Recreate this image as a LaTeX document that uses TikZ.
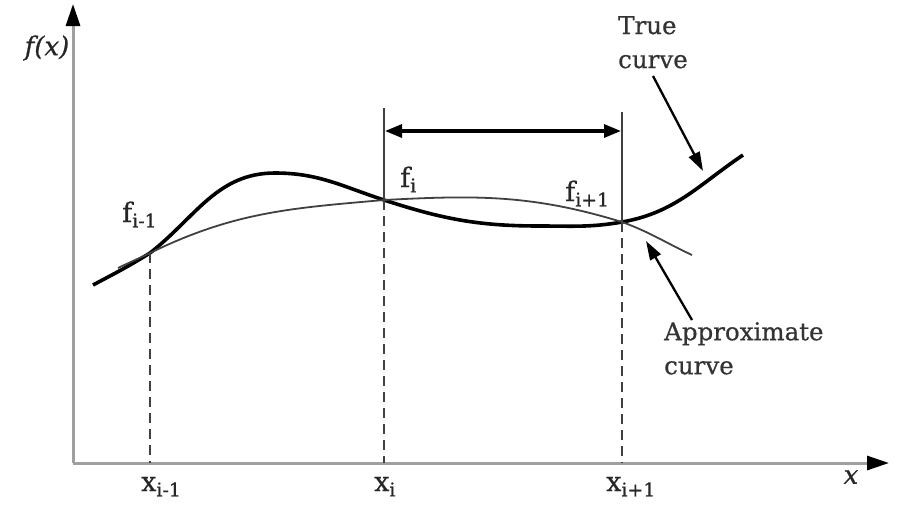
\documentclass[tikz,border=0pt]{standalone}
\usepackage{fontspec}
\setmainfont{DejaVu Serif}[FakeBold=0.6]
\usepackage{tikz}
\usetikzlibrary{arrows.meta}

\tikzset{
  axis/.style={line width=3pt, draw=gray!75, -{Triangle[length=22pt,width=14pt,color=black]}},
  truecurve/.style={line width=3.6pt, black},
  approxcurve/.style={line width=1.8pt, black!75},
  guide/.style={line width=2.3pt, draw=black!75},
  dashguide/.style={guide, dash pattern=on 10pt off 6pt},
  pointer/.style={line width=2.3pt, -{Triangle[length=19pt,width=12pt]}},
  span/.style={line width=3.2pt, {Triangle[length=17pt,width=13pt]}-{Triangle[length=17pt,width=13pt]}},
  lbl/.style={font=\fontsize{27}{30}\selectfont, inner sep=0pt, text=black!85},
  note/.style={font=\fontsize{24.5}{34}\selectfont, align=left, inner sep=0pt, text=black!80}
}

\begin{document}
\begin{tikzpicture}[x=1pt, y=-1pt]
\useasboundingbox (0,0) rectangle (907,507);

% Axes
\coordinate (O) at (73,463);
\coordinate (ytip) at (73,4);
\coordinate (xtip) at (889,463);
\draw[axis] (O) -- (ytip);
\draw[axis] (O) -- (xtip);
\node[lbl, font=\fontsize{26}{30}\selectfont\itshape] (fx) at (47,48) {f(x)};
\node[lbl, font=\fontsize{26}{30}\selectfont\itshape] (xl) at (851,477) {x};

% Points on the curves
\coordinate (fim1) at (150,253);
\coordinate (fi) at (384,200);
\coordinate (fip1) at (622,222);
\coordinate (xim1) at (150,463);
\coordinate (xi) at (384,463);
\coordinate (xip1) at (622,463);
\coordinate (topi) at (384,108);
\coordinate (topip1) at (622,112);

% True curve
\draw[truecurve] (93,285) to[out=28,in=-148] (fim1) to[out=38,in=180] (275,173)
  to[out=0,in=162] (fi) to[out=-18,in=180] (540,226) to[out=0,in=190] (fip1)
  to[out=10,in=-146] (743,155);

% Approximate curve
\draw[approxcurve] (118,268) to[out=26,in=-154] (fim1) to[out=26,in=185] (fi)
  to[out=3,in=163] (fip1) to[out=-20,in=155] (692,255);

% Guides
\draw[dashguide] (fim1) -- (xim1);
\draw[dashguide] (fi) -- (xi);
\draw[dashguide] (fip1) -- (xip1);
\draw[guide] (topi) -- (fi);
\draw[guide] (topip1) -- (fip1);

% Interval
\coordinate (spanL) at (385,131);
\coordinate (spanR) at (621,131);
\draw[span] (spanL) -- (spanR);

% Point labels
\node[lbl, anchor=base west] (lfim1) at (122,222) {f\textsubscript{i-1}};
\node[lbl, anchor=base west] (lfi) at (400,187) {f\textsubscript{i}};
\node[lbl, anchor=base west] (lfip1) at (565,201) {f\textsubscript{i+1}};
\node[lbl, anchor=base west] (lxim1) at (141,491) {x\textsubscript{i-1}};
\node[lbl, anchor=base west] (lxi) at (374,491) {x\textsubscript{i}};
\node[lbl, anchor=base west] (lxip1) at (606,491) {x\textsubscript{i+1}};

% Curve names
\node[note, anchor=north west] (truelbl) at (618,16) {True\\curve};
\node[note, anchor=north west] (approxlbl) at (664,322) {Approximate\\curve};
\coordinate (truetail) at (653,76);
\coordinate (truetip) at (703,171);
\coordinate (approxtail) at (692,320);
\coordinate (approxtip) at (646,241);
\draw[pointer] (truetail) -- (truetip);
\draw[pointer] (approxtail) -- (approxtip);

\end{tikzpicture}
\end{document}
